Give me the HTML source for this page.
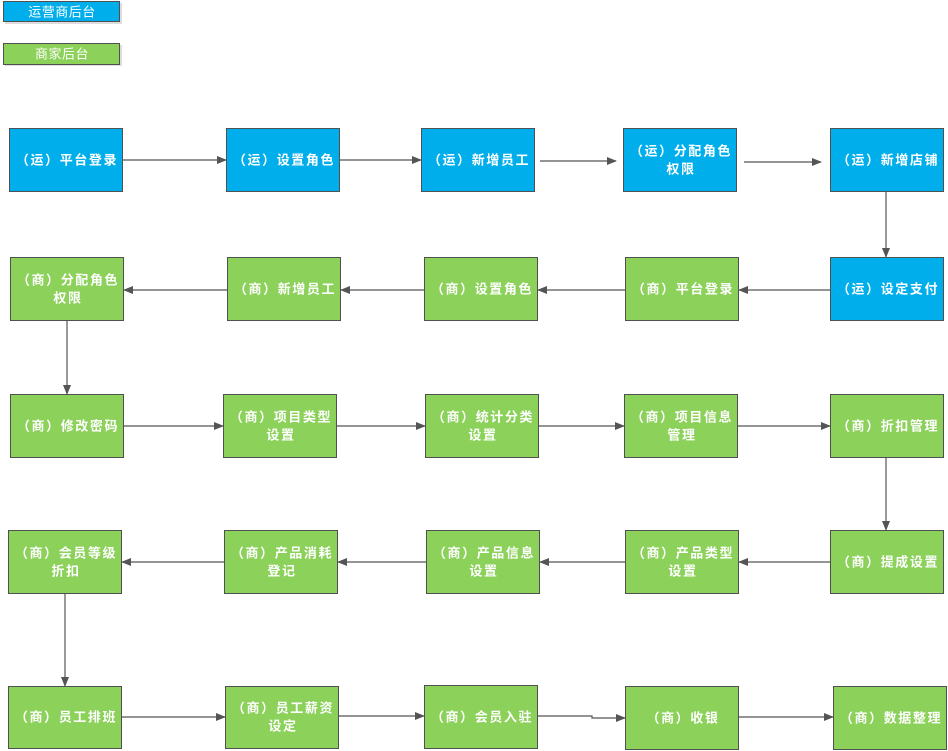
<!DOCTYPE html>
<html><head><meta charset="utf-8"><style>
html,body{margin:0;padding:0;background:#fff;}
svg{display:block}
text{font-family:"Liberation Sans","Noto Sans CJK SC",sans-serif;font-size:13px;font-weight:bold;fill:#fff;text-anchor:middle;dominant-baseline:central;letter-spacing:1.6px}
.n{font-weight:normal;letter-spacing:0.5px}
.b{fill:#00AEEB;stroke:#505050;stroke-width:1}
.g{fill:#8BD15A;stroke:#505050;stroke-width:1}
.l{stroke:#555;stroke-width:1.2;fill:none}
</style></head><body>
<svg width="948" height="751" viewBox="0 0 948 751">
<defs><marker id="a" markerWidth="10" markerHeight="10" refX="9" refY="5" orient="auto" markerUnits="userSpaceOnUse"><path d="M0,1 L10,5 L0,9 z" fill="#555"/></marker></defs>
<rect x="5" y="3" width="117" height="21" fill="#ddd"/>
<rect class="b" x="3.5" y="1.5" width="116" height="20"/>
<text class="n" x="62" y="12">运营商后台</text>
<rect x="5" y="45" width="117" height="21" fill="#ddd"/>
<rect class="g" x="3.5" y="43.5" width="116" height="21"/>
<text class="n" x="62" y="54">商家后台</text>

<rect class="b" x="9.5" y="128.5" width="113" height="63"/><text x="67" y="160">（运）平台登录</text>
<rect class="b" x="226.5" y="128.5" width="113" height="63"/><text x="284" y="160">（运）设置角色</text>
<rect class="b" x="421.5" y="128.5" width="113" height="63"/><text x="479" y="160">（运）新增员工</text>
<rect class="b" x="623.5" y="128.5" width="113" height="63"/><text x="681" y="151">（运）分配角色</text><text x="681" y="169">权限</text>
<rect class="b" x="830.5" y="128.5" width="113" height="63"/><text x="888" y="160">（运）新增店铺</text>
<line class="l" x1="123" y1="160" x2="226" y2="160" marker-end="url(#a)"/>
<line class="l" x1="340" y1="160" x2="421" y2="160" marker-end="url(#a)"/>
<line class="l" x1="540" y1="161" x2="616" y2="161" marker-end="url(#a)"/>
<line class="l" x1="744" y1="162" x2="821" y2="162" marker-end="url(#a)"/>
<line class="l" x1="886" y1="192" x2="886" y2="257" marker-end="url(#a)"/>

<rect class="g" x="10.5" y="257.5" width="113" height="63"/><text x="68" y="280">（商）分配角色</text><text x="68" y="298">权限</text>
<rect class="g" x="227.5" y="257.5" width="113" height="63"/><text x="285" y="289">（商）新增员工</text>
<rect class="g" x="424.5" y="257.5" width="113" height="63"/><text x="482" y="289">（商）设置角色</text>
<rect class="g" x="625.5" y="257.5" width="113" height="63"/><text x="683" y="289">（商）平台登录</text>
<rect class="b" x="830.5" y="257.5" width="113" height="63"/><text x="888" y="289">（运）设定支付</text>
<line class="l" x1="830" y1="290" x2="739" y2="290" marker-end="url(#a)"/>
<line class="l" x1="625" y1="290" x2="538" y2="290" marker-end="url(#a)"/>
<line class="l" x1="424" y1="290" x2="341" y2="290" marker-end="url(#a)"/>
<line class="l" x1="227" y1="290" x2="124" y2="290" marker-end="url(#a)"/>
<line class="l" x1="67" y1="321" x2="67" y2="394" marker-end="url(#a)"/>

<rect class="g" x="10.5" y="394.5" width="113" height="63"/><text x="68" y="426">（商）修改密码</text>
<rect class="g" x="223.5" y="394.5" width="113" height="63"/><text x="281" y="417">（商）项目类型</text><text x="281" y="435">设置</text>
<rect class="g" x="425.5" y="394.5" width="113" height="63"/><text x="483" y="417">（商）统计分类</text><text x="483" y="435">设置</text>
<rect class="g" x="624.5" y="394.5" width="113" height="63"/><text x="682" y="417">（商）项目信息</text><text x="682" y="435">管理</text>
<rect class="g" x="830.5" y="394.5" width="113" height="63"/><text x="888" y="426">（商）折扣管理</text>
<line class="l" x1="124" y1="426" x2="223" y2="426" marker-end="url(#a)"/>
<line class="l" x1="337" y1="426" x2="425" y2="426" marker-end="url(#a)"/>
<line class="l" x1="539" y1="426" x2="624" y2="426" marker-end="url(#a)"/>
<line class="l" x1="738" y1="426" x2="830" y2="426" marker-end="url(#a)"/>
<line class="l" x1="886" y1="458" x2="886" y2="530" marker-end="url(#a)"/>

<rect class="g" x="8.5" y="530.5" width="113" height="63"/><text x="66" y="553">（商）会员等级</text><text x="66" y="571">折扣</text>
<rect class="g" x="224.5" y="530.5" width="113" height="63"/><text x="282" y="553">（商）产品消耗</text><text x="282" y="571">登记</text>
<rect class="g" x="426.5" y="530.5" width="113" height="63"/><text x="484" y="553">（商）产品信息</text><text x="484" y="571">设置</text>
<rect class="g" x="625.5" y="530.5" width="113" height="63"/><text x="683" y="553">（商）产品类型</text><text x="683" y="571">设置</text>
<rect class="g" x="830.5" y="530.5" width="113" height="63"/><text x="888" y="562">（商）提成设置</text>
<line class="l" x1="830" y1="562" x2="739" y2="562" marker-end="url(#a)"/>
<line class="l" x1="625" y1="562" x2="540" y2="562" marker-end="url(#a)"/>
<line class="l" x1="426" y1="562" x2="338" y2="562" marker-end="url(#a)"/>
<line class="l" x1="224" y1="562" x2="122" y2="562" marker-end="url(#a)"/>
<line class="l" x1="65" y1="594" x2="65" y2="686" marker-end="url(#a)"/>

<rect class="g" x="8.5" y="686.5" width="113" height="62"/><text x="66" y="717">（商）员工排班</text>
<rect class="g" x="225.5" y="686.5" width="113" height="62"/><text x="283" y="708">（商）员工薪资</text><text x="283" y="726">设定</text>
<rect class="g" x="424.5" y="685.5" width="113" height="63"/><text x="482" y="717">（商）会员入驻</text>
<rect class="g" x="625.5" y="686.5" width="113" height="63"/><text x="683" y="718">（商）收银</text>
<rect class="g" x="833.5" y="686.5" width="113" height="63"/><text x="891" y="718">（商）数据整理</text>
<line class="l" x1="122" y1="717" x2="225" y2="717" marker-end="url(#a)"/>
<line class="l" x1="339" y1="716" x2="424" y2="716" marker-end="url(#a)"/>
<polyline class="l" points="538,716 592,716 592,718 625,718" marker-end="url(#a)"/>
<line class="l" x1="739" y1="717" x2="833" y2="717" marker-end="url(#a)"/>
</svg>
</body></html>
